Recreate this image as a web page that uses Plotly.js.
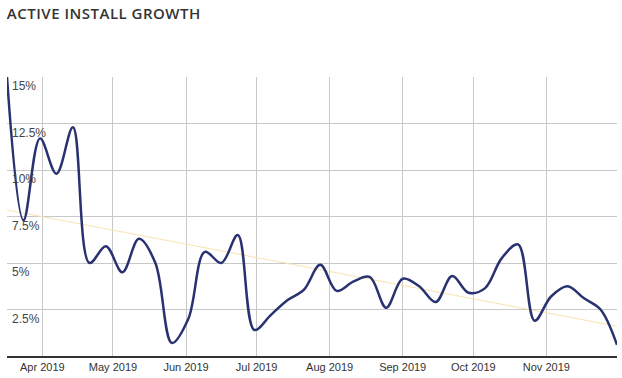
<!DOCTYPE html>
<html>
<head>
<meta charset="utf-8">
<script src="https://cdn.plot.ly/plotly-3.0.1.min.js"></script>
<style>html,body{margin:0;padding:0;background:#fff;}#chart{width:622px;height:378px;}</style>
</head>
<body>
<div id="chart"></div>
<script>
const weeks = ["2019-03-17","2019-03-24","2019-03-31","2019-04-07","2019-04-14","2019-04-21","2019-04-28","2019-05-05","2019-05-12","2019-05-19","2019-05-26","2019-06-02","2019-06-09","2019-06-16","2019-06-23","2019-06-30","2019-07-07","2019-07-14","2019-07-21","2019-07-28","2019-08-04","2019-08-11","2019-08-18","2019-08-25","2019-09-01","2019-09-08","2019-09-15","2019-09-22","2019-09-29","2019-10-06","2019-10-13","2019-10-20","2019-10-27","2019-11-03","2019-11-10","2019-11-17","2019-11-24","2019-12-01"];
const growth = [15.0,7.3,11.7,9.8,12.3,5.0,5.9,4.5,6.3,5.0,0.7,2.0,5.6,5.0,6.5,1.4,2.2,3.0,3.55,4.9,3.5,4.0,4.25,2.6,4.15,3.75,2.9,4.3,3.4,3.65,5.25,6.0,1.9,3.2,3.75,3.1,2.5,0.6];
const trendDates = ["2019-03-17","2019-12-01"];
const trendValues = [7.85,1.6];
const yTicks = [2.5,5,7.5,10,12.5,15];
const yTickText = ["2.5%","5%","7.5%","10%","12.5%","15%"];
const xTicks = ["2019-04-01","2019-05-01","2019-06-01","2019-07-01","2019-08-01","2019-09-01","2019-10-01","2019-11-01"];
const xTickText = ["Apr 2019","May 2019","Jun 2019","Jul 2019","Aug 2019","Sep 2019","Oct 2019","Nov 2019"];

const traces = [
  {x: trendDates, y: trendValues, type: "scatter", mode: "lines",
   line: {color: "#f8e3b0", width: 1}, hoverinfo: "skip"},
  {x: weeks, y: growth, type: "scatter", mode: "lines",
   line: {color: "#283271", width: 2.5, shape: "spline", smoothing: 1}}
];
const layout = {
  width: 622, height: 378,
  margin: {l: 7, r: 5, t: 77, b: 22},
  paper_bgcolor: "#fff", plot_bgcolor: "#fff",
  showlegend: false,
  title: {text: "ACTIVE INSTALL GROWTH", x: 0.011, xanchor: "left", y: 0.963, yanchor: "middle",
          font: {family: "Open Sans", size: 15, color: "#333", weight: 600}},
  xaxis: {type: "date", range: ["2019-03-17","2019-12-01"], tickvals: xTicks, ticktext: xTickText,
          showgrid: true, gridcolor: "#c8c8c8", gridwidth: 1, zeroline: false,
          showline: true, linecolor: "#333", linewidth: 1.5, ticks: "",
          tickfont: {family: "Arial", size: 11, color: "#333"}},
  yaxis: {range: [0, 15], tickvals: yTicks, ticktext: yTickText,
          side: "right", anchor: "free", position: 0,
          showgrid: true, gridcolor: "#c8c8c8", gridwidth: 1, zeroline: false, showline: false,
          ticks: "", ticklabelshift: 9, ticklabelstandoff: 4,
          tickfont: {family: "Arial", size: 12, color: "#444"}}
};
Plotly.newPlot("chart", traces, layout, {displayModeBar: false, staticPlot: true}).then(function(gd){
  const t = gd.querySelector(".gtitle");
  if (t) t.style.letterSpacing = "0.5px";
});
</script>
</body>
</html>
